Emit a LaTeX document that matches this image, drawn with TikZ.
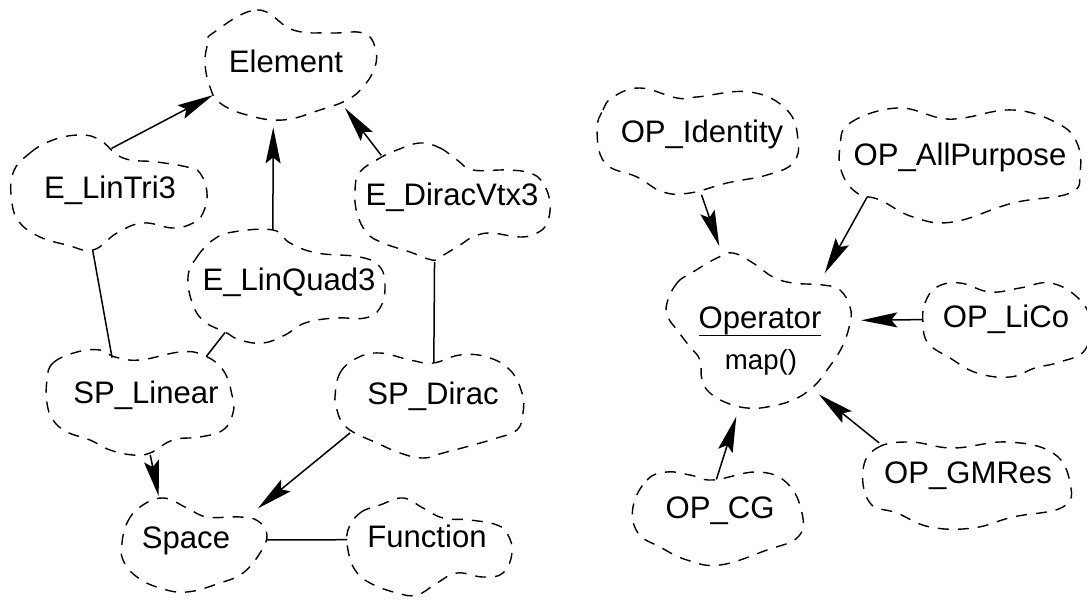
\documentclass[tikz,border=0pt]{standalone}
\usepackage{fontspec}
\setmainfont{Liberation Sans}
\usetikzlibrary{arrows.meta,shapes.geometric}

% class names and operation font sizes
\newcommand\clsfont{\fontsize{31.1pt}{37pt}\selectfont}
\newcommand\opsfont{\fontsize{27.6pt}{33pt}\selectfont}
% underline with a rule of the same weight as the connectors
\newcommand\ulined[1]{\setbox0=\hbox{#1}\rlap{\rule[-8pt]{\wd0}{1.4pt}}\box0}

\tikzset{
  cls/.style={ellipse, inner xsep=-200pt, inner ysep=-200pt, outer sep=0pt,
              text height=0.716em, text depth=0pt, font=\clsfont},
  cloudline/.style={line width=1.4pt, dash pattern=on 11pt off 9pt, line join=round},
  assoc/.style={line width=1.5pt},
  isa/.style={assoc, -{Stealth[length=36pt, width=15pt, inset=6pt]}},
}

\begin{document}
\begin{tikzpicture}[x=1pt, y=-1pt]
\useasboundingbox (0,0) rectangle (1087,601);

% ---------- class nodes (ellipses approximate the clouds) ----------
\node[cls, minimum width=174pt, minimum height=112pt] (elem)  at (286,69)  {Element};
\node[cls, minimum width=196pt, minimum height=114pt] (tri)   at (110,195) {E\_LinTri3};
\node[cls, minimum width=196pt, minimum height=114pt] (quad)  at (289,287) {E\_LinQuad3};
\node[cls, minimum width=194pt, minimum height=116pt] (dvtx)  at (452,202) {E\_DiracVtx3};
\node[cls, minimum width=186pt, minimum height=104pt] (splin) at (146,400) {SP\_Linear};
\node[cls, minimum width=190pt, minimum height=104pt] (spdir) at (433,401) {SP\_Dirac};
\node[cls, minimum width=144pt, minimum height=94pt]  (space) at (186,545) {Space};
\node[cls, minimum width=164pt, minimum height=96pt]  (func)  at (427,544) {Function};

\node[cls, minimum width=200pt, minimum height=104pt] (opid)  at (702,139) {OP\_Identity};
\node[cls, minimum width=240pt, minimum height=114pt] (opall) at (960,162) {OP\_AllPurpose};
\node[cls, minimum width=184pt, minimum height=156pt, text depth=1.04em] (op) at (760,330) {\ulined{Operator}};
\node[font=\opsfont, anchor=base, inner sep=0pt] (opmap) at (761,370) {map()};
\node[cls, minimum width=168pt, minimum height=94pt]  (oplico) at (1006,324) {OP\_LiCo};
\node[cls, minimum width=208pt, minimum height=86pt]  (opgm)  at (968,480) {OP\_GMRes};
\node[cls, minimum width=170pt, minimum height=94pt]  (opcg)  at (720,515) {OP\_CG};

% ---------- cloud outlines ----------
\draw[cloudline] plot[smooth cycle, tension=0.7] coordinates {
  (213,33) (257,10) (293,30) (330,33) (363,33) (375,47) (375,67) (363,87)
  (347,100) (320,110) (283,120) (247,115) (220,103) (210,87) (205,63) (208,43)};
\draw[cloudline] plot[smooth cycle, tension=0.7] coordinates {
  (13,173) (30,153) (53,140) (80,135) (100,140) (123,158) (157,162) (187,167)
  (200,173) (207,193) (203,213) (193,223) (173,228) (143,223) (117,233) (93,250)
  (67,245) (40,237) (20,223) (12,203)};
\draw[cloudline] plot[smooth cycle, tension=0.7] coordinates {
  (188,277) (197,257) (213,240) (233,232) (273,230) (290,243) (317,253) (360,257)
  (380,267) (385,287) (380,308) (365,318) (335,318) (305,323) (285,335) (263,343)
  (240,340) (225,332) (205,322) (193,305)};
\draw[cloudline] plot[smooth cycle, tension=0.7] coordinates {
  (420,143) (440,148) (457,160) (473,170) (507,170) (530,173) (543,183) (550,203)
  (547,223) (537,233) (520,237) (490,233) (473,237) (460,245) (440,257) (432,260)
  (410,252) (383,243) (367,233) (357,213) (355,190) (360,172) (380,158) (397,150)};
\draw[cloudline] plot[smooth cycle, tension=0.7] coordinates {
  (47,380) (53,363) (77,352) (100,350) (115,357) (140,360) (180,352) (203,355)
  (223,370) (232,395) (233,413) (223,430) (200,437) (173,440) (150,453) (133,455)
  (110,450) (90,440) (67,432) (53,420) (47,403)};
\draw[cloudline] plot[smooth cycle, tension=0.7] coordinates {
  (335,397) (340,373) (357,358) (380,353) (410,360) (433,363) (460,355) (487,357)
  (510,370) (522,393) (523,413) (517,430) (497,438) (473,445) (443,453) (423,458)
  (400,453) (377,443) (353,432) (342,422) (337,410)};
\draw[cloudline] plot[smooth cycle, tension=0.7] coordinates {
  (122,543) (127,523) (140,507) (163,498) (187,508) (207,517) (240,517) (258,521)
  (267,535) (260,553) (243,573) (220,583) (187,592) (160,588) (137,577) (123,560)};
\draw[cloudline] plot[smooth cycle, tension=0.7] coordinates {
  (348,530) (360,513) (380,505) (403,498) (423,508) (443,518) (470,520) (497,525)
  (508,535) (512,553) (503,573) (483,577) (457,573) (437,583) (417,595) (397,593)
  (370,583) (355,570) (348,550)};
\draw[cloudline] plot[smooth cycle, tension=0.7] coordinates {
  (597,130) (603,110) (613,97) (640,88) (677,98) (697,97) (750,92) (787,110)
  (798,140) (793,163) (767,175) (727,183) (690,193) (663,192) (637,177) (605,163)};
\draw[cloudline] plot[smooth cycle, tension=0.7] coordinates {
  (840,147) (850,123) (897,108) (940,118) (963,118) (1013,110) (1057,123) (1077,143)
  (1080,173) (1070,193) (1013,203) (953,222) (913,217) (880,200) (857,193) (842,173)};
\draw[cloudline] plot[smooth cycle, tension=0.7] coordinates {
  (667,303) (677,283) (693,272) (717,258) (733,253) (753,263) (773,277) (793,283)
  (823,285) (840,290) (850,307) (850,323) (842,347) (827,370) (813,387) (793,400)
  (767,407) (747,408) (727,403) (710,393) (702,380) (700,360) (690,347) (677,330)
  (668,317)};
\draw[cloudline] plot[smooth cycle, tension=0.7] coordinates {
  (923,323) (925,303) (937,287) (960,283) (990,292) (1020,288) (1050,283) (1077,297)
  (1090,320) (1085,350) (1060,362) (1035,368) (1010,377) (977,373) (950,358) (928,343)};
\draw[cloudline] plot[smooth cycle, tension=0.7] coordinates {
  (863,470) (877,448) (910,442) (953,448) (1007,442) (1053,453) (1070,483) (1063,507)
  (1013,517) (973,528) (930,527) (897,513) (870,503)};
\draw[cloudline] plot[smooth cycle, tension=0.7] coordinates {
  (633,507) (647,480) (667,472) (690,475) (713,480) (757,472) (787,483) (802,513)
  (798,537) (767,550) (720,565) (687,560) (660,547) (638,533)};

% ---------- connectors ----------
\draw[isa, shorten <=-20pt, shorten >=-3pt] (tri.71)   -- (elem.200);
\draw[isa, shorten <=1pt,   shorten >=3pt]  (quad.106) -- (elem.257);
\draw[isa, shorten <=6pt,   shorten >=-2pt] (dvtx.148) -- (elem.326);
\draw[assoc, shorten <=-1pt, shorten >=-6pt] (tri.253)  -- (splin.126);
\draw[assoc, shorten <=2pt,  shorten >=4pt]  (quad.215) -- (splin.35);
\draw[assoc, shorten <=3pt,  shorten >=-14pt] (dvtx.253) -- (spdir.89);
\draw[isa, shorten <=3pt,   shorten >=5pt]  (splin.274) -- (space.121);
\draw[isa, shorten <=5pt,   shorten >=16pt] (spdir.200) -- (space.24);
\draw[assoc, shorten <=9pt,  shorten >=-2pt] (space.4)  -- (func.177);

\draw[isa, shorten <=4pt,   shorten >=13pt] (opid.268)   -- (op.117);
\draw[isa, shorten <=-1pt,  shorten >=1pt]  (opall.201)  -- (op.41);
\draw[isa, shorten <=0pt,   shorten >=10pt] (oplico.177) -- (op.6);
\draw[isa, shorten <=-12pt, shorten >=11pt] (opcg.90)    -- (op.255);
\draw[isa, shorten <=14pt,  shorten >=4pt]  (opgm.160)   -- (op.312);
\end{tikzpicture}
\end{document}
